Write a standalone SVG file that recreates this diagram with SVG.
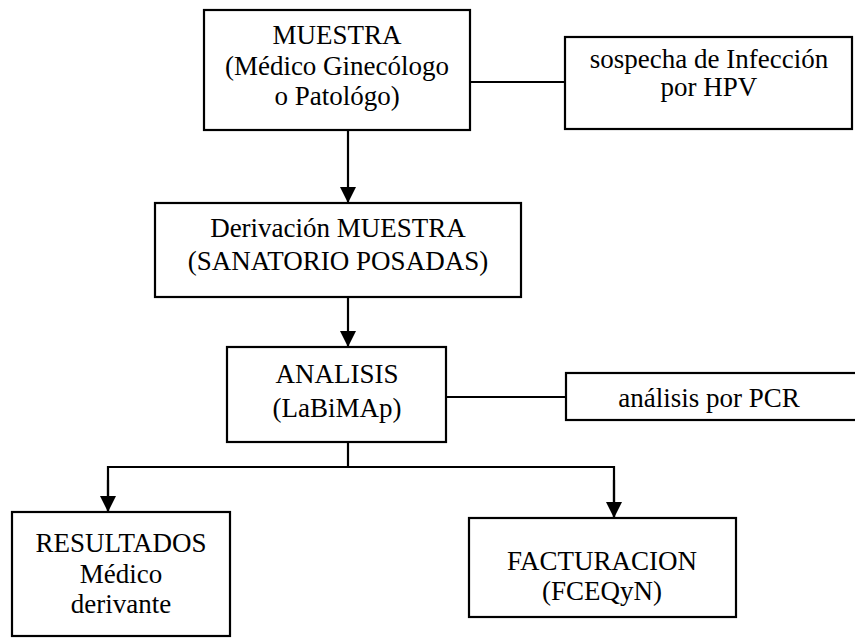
<svg xmlns="http://www.w3.org/2000/svg" width="855" height="639" viewBox="0 0 855 639">
<style>
.box{fill:#fff;stroke:#000;stroke-width:2.2}
.t{font-family:"Liberation Serif","Times New Roman",serif;font-size:27px;fill:#000;text-anchor:middle}
.c{fill:none;stroke:#000;stroke-width:2.2}
</style>
<defs>
<marker id="ah" markerUnits="userSpaceOnUse" markerWidth="18" markerHeight="16" refX="16" refY="8" orient="auto" viewBox="0 0 16 16">
<path d="M0,0 L16,8 L0,16 Z" fill="#000"/>
</marker>
</defs>
<rect width="855" height="639" fill="#fff"/>
<g id="connectors">
<line class="c" x1="470" y1="82" x2="565" y2="82"/>
<line class="c" x1="348" y1="130" x2="348" y2="203" marker-end="url(#ah)"/>
<line class="c" x1="348" y1="297" x2="348" y2="347" marker-end="url(#ah)"/>
<line class="c" x1="446" y1="397" x2="566" y2="397"/>
<polyline class="c" points="348,442 348,467"/>
<polyline class="c" points="108,512 108,467 614,467 614,518"/>
<line class="c" x1="108" y1="480" x2="108" y2="512" marker-end="url(#ah)"/>
<line class="c" x1="614" y1="480" x2="614" y2="518" marker-end="url(#ah)"/>
</g>
<g id="muestra">
<rect class="box" x="204" y="10" width="266" height="120"/>
<text class="t" x="337" y="44">MUESTRA</text>
<text class="t" x="337" y="75">(Médico Ginecólogo</text>
<text class="t" x="337" y="105">o Patológo)</text>
</g>
<g id="sospecha">
<rect class="box" x="565" y="37" width="287" height="92"/>
<text class="t" x="709" y="68">sospecha de Infección</text>
<text class="t" x="709" y="96">por HPV</text>
</g>
<g id="derivacion">
<rect class="box" x="155" y="203" width="366" height="94"/>
<text class="t" x="338" y="237">Derivación MUESTRA</text>
<text class="t" x="338" y="270">(SANATORIO POSADAS)</text>
</g>
<g id="analisis">
<rect class="box" x="227" y="347" width="219" height="95"/>
<text class="t" x="337" y="383">ANALISIS</text>
<text class="t" x="337" y="417">(LaBiMAp)</text>
</g>
<g id="pcr">
<rect class="box" x="566" y="373" width="295" height="47"/>
<text class="t" x="709" y="407">análisis por PCR</text>
</g>
<g id="resultados">
<rect class="box" x="12" y="512" width="218" height="124"/>
<text class="t" x="121" y="552">RESULTADOS</text>
<text class="t" x="121" y="583">Médico</text>
<text class="t" x="121" y="613">derivante</text>
</g>
<g id="facturacion">
<rect class="box" x="469" y="518" width="267" height="99"/>
<text class="t" x="602" y="570">FACTURACION</text>
<text class="t" x="602" y="600">(FCEQyN)</text>
</g>
</svg>
